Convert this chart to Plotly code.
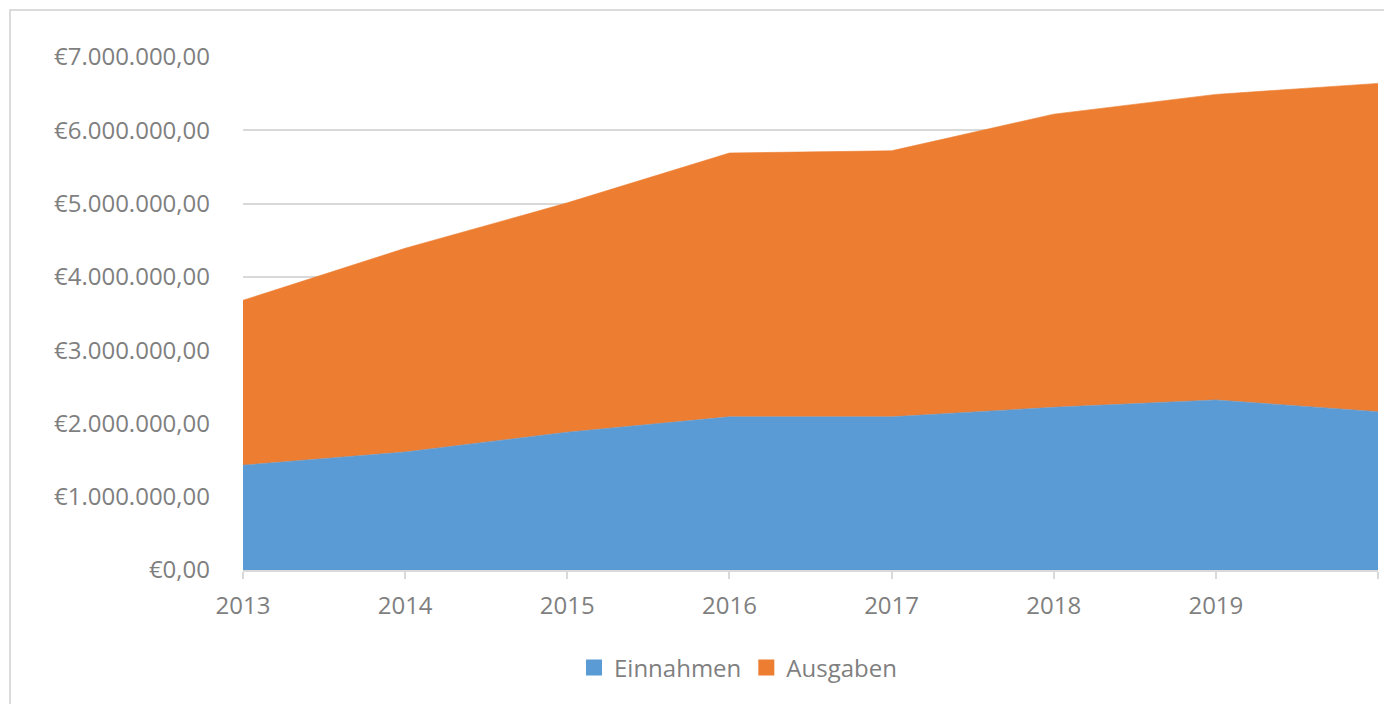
import plotly.graph_objects as go

years = [2013, 2014, 2015, 2016, 2017, 2018, 2019, 2020]
year_labels = ["2013", "2014", "2015", "2016", "2017", "2018", "2019", ""]
einnahmen = [1430000, 1610000, 1880000, 2090000, 2090000, 2220000, 2320000, 2160000]
ausgaben = [2250000, 2780000, 3130000, 3600000, 3630000, 4000000, 4170000, 4480000]
y_ticks = [0, 1000000, 2000000, 3000000, 4000000, 5000000, 6000000, 7000000]
y_tick_labels = ["€0,00", "€1.000.000,00", "€2.000.000,00", "€3.000.000,00",
                 "€4.000.000,00", "€5.000.000,00", "€6.000.000,00", "€7.000.000,00"]
series_names = ["Einnahmen", "Ausgaben"]
series_colors = ["#5b9bd5", "#ed7d31"]

FONT = "'Open Sans', sans-serif"
GRAY = "#7f7f7f"
FS = 24

fig = go.Figure()
for name, vals, col in zip(series_names, [einnahmen, ausgaben], series_colors):
    fig.add_trace(go.Scatter(x=years, y=vals, name=name, stackgroup="one",
                             mode="lines", line=dict(width=0.6, color=col),
                             fillcolor=col, showlegend=False, legendgroup=name))
    # legend swatch (square), no visible data
    fig.add_trace(go.Scatter(x=[None], y=[None], name=name, mode="markers",
                             marker=dict(color=col, symbol="square", size=16),
                             showlegend=True, legendgroup=name))

# page body has an 8px offset; compensate
OFF = 8
W, H = 1392 - OFF, 704 - OFF
plot_left, plot_right, plot_top, plot_bottom = 243 - OFF, 1378 - OFF, 57 - OFF, 570 - OFF
L, R, T, B = plot_left, W - plot_right, plot_top, H - plot_bottom
pw, ph = W - L - R, H - T - B

def px(x):
    return (x - OFF - L) / pw

def py(y):
    return (H - B - (y - OFF)) / ph

fig.update_layout(
    width=W, height=H,
    margin=dict(l=L, r=R, t=T, b=B),
    paper_bgcolor="white", plot_bgcolor="white",
    font=dict(family=FONT, color=GRAY, size=FS),
    showlegend=True,
    legend=dict(orientation="h", x=px(738), y=py(668), xanchor="center", yanchor="middle",
                font=dict(size=FS, color=GRAY), traceorder="normal", itemwidth=30),
    xaxis=dict(range=[2013, 2020], tickvals=years, ticktext=year_labels,
               showgrid=False, showline=True, linecolor="#d9d9d9", linewidth=2,
               ticks="outside", ticklen=7, tickcolor="#d9d9d9", tickwidth=2,
               ticklabelstandoff=6,
               tickfont=dict(size=FS, color=GRAY), zeroline=False),
    yaxis=dict(range=[0, 7000000], tickvals=y_ticks, ticktext=y_tick_labels,
               showgrid=True, gridcolor="#d9d9d9", gridwidth=1.5,
               zeroline=False, showline=False, ticks="", ticklabelstandoff=32,
               tickfont=dict(size=FS, color=GRAY)),
    shapes=[dict(type="rect", xref="paper", yref="paper",
                 x0=px(10), x1=px(1420), y0=py(730), y1=py(10),
                 line=dict(color="#d0d0d0", width=1.5), fillcolor="rgba(0,0,0,0)",
                 layer="below")],
)

fig.write_html("out.html")
